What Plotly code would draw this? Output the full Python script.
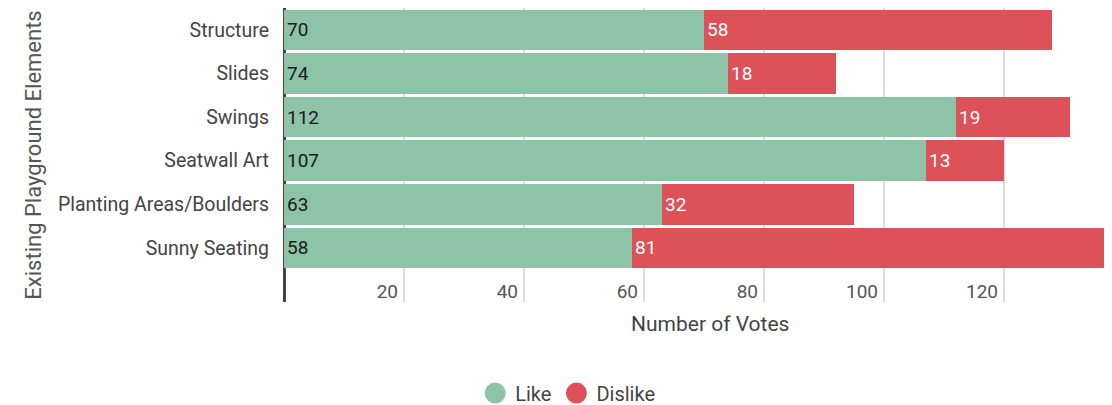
import plotly.graph_objects as go

categories = ["Structure", "Slides", "Swings", "Seatwall Art", "Planting Areas/Boulders", "Sunny Seating"]
like_votes = [70, 74, 112, 107, 63, 58]
dislike_votes = [58, 18, 19, 13, 32, 81]
x_ticks = [20, 40, 60, 80, 100, 120]

GREEN = "#8dc3a7"
RED = "#dc5258"
FONT = "Roboto"

fig = go.Figure()
fig.add_trace(go.Bar(
    y=categories, x=like_votes, orientation="h", name="Like",
    marker=dict(color=GREEN, line=dict(width=0)),
    text=[str(v) for v in like_votes], textposition="inside",
    insidetextanchor="start", textfont=dict(color="#1a1a1a", size=19, family=FONT),
    constraintext="none", showlegend=False, hoverinfo="x+y",
))
fig.add_trace(go.Bar(
    y=categories, x=dislike_votes, orientation="h", name="Dislike",
    marker=dict(color=RED, line=dict(width=0)),
    text=[str(v) for v in dislike_votes], textposition="inside",
    insidetextanchor="start", textfont=dict(color="white", size=19, family=FONT),
    constraintext="none", showlegend=False, hoverinfo="x+y",
))
# legend entries with circle symbols
fig.add_trace(go.Scatter(x=[None], y=[None], mode="markers", name="Like",
                         marker=dict(color=GREEN, size=16, symbol="circle",
                                     line=dict(color=GREEN, width=5))))
fig.add_trace(go.Scatter(x=[None], y=[None], mode="markers", name="Dislike",
                         marker=dict(color=RED, size=16, symbol="circle",
                                     line=dict(color=RED, width=5))))

fig.update_layout(
    width=1104, height=397,
    margin=dict(l=276, r=0, t=0, b=103, autoexpand=False),
    barmode="stack", bargap=0.07,
    plot_bgcolor="white", paper_bgcolor="white",
    font=dict(family=FONT, size=19, color="#444"),
    showlegend=True,
    legend=dict(orientation="h", xref="container", yref="container",
                x=0.507, xanchor="center", y=0.03, yanchor="middle",
                traceorder="normal",
                font=dict(size=20, color="#444"), itemsizing="trace"),
    xaxis=dict(
        range=[0, 138], tickvals=x_ticks, ticktext=[str(v) for v in x_ticks],
        showgrid=True, gridcolor="#dcdcdc", gridwidth=2,
        zeroline=True, zerolinecolor="#444", zerolinewidth=3,
        ticklabelposition="inside left", ticks="",
        ticklabelshift=-6, ticklabelstandoff=-6,
        tickfont=dict(size=19, color="#555"), showline=False,
    ),
    yaxis=dict(
        type="category", categoryorder="array", categoryarray=categories,
        range=[6.24, -0.5], showgrid=False, zeroline=False, ticks="",
        ticklabelstandoff=14, tickfont=dict(size=19.5, color="#444"),
        title=dict(text="Existing Playground Elements", font=dict(size=22, color="#555"), standoff=10),
    ),
    annotations=[dict(
        text="Number of Votes", xref="paper", yref="paper", x=0.5145, y=0,
        xanchor="center", yanchor="top", yshift=-8, showarrow=False,
        font=dict(size=21, color="#444"),
    )],
)

fig.write_html("out.html")
